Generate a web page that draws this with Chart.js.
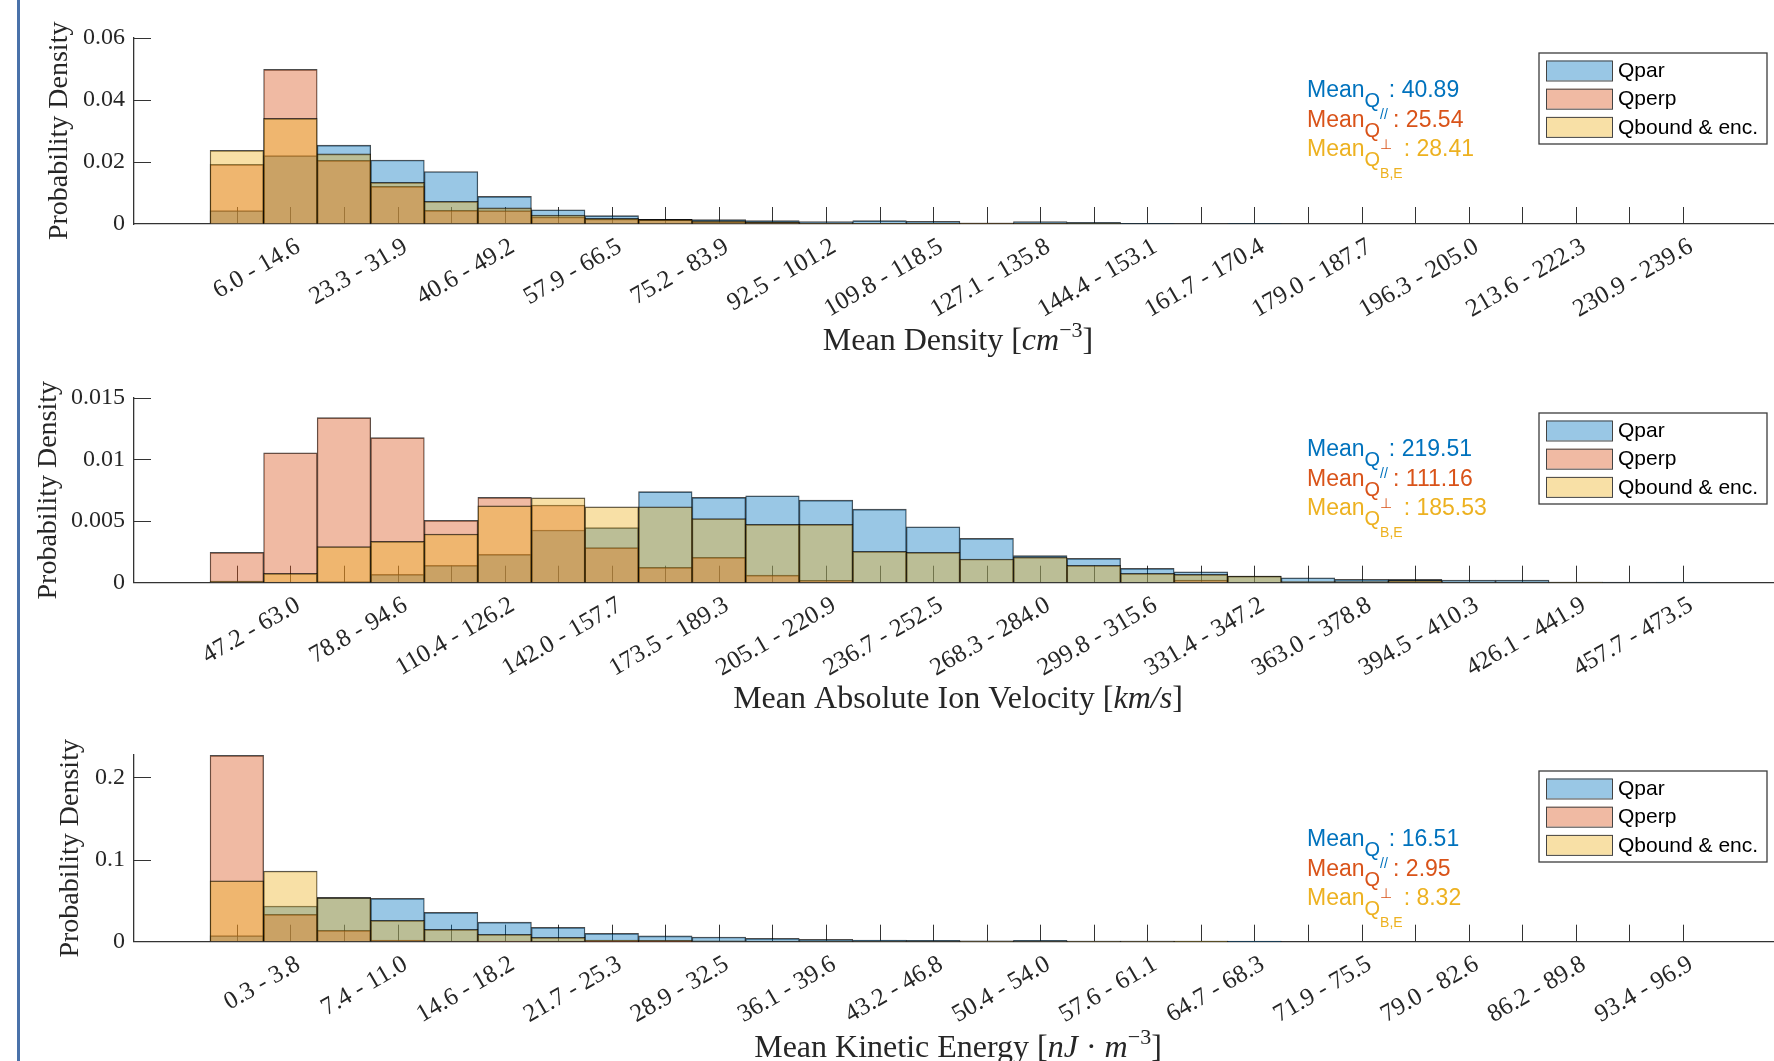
<!DOCTYPE html>
<html>
<head>
<meta charset="utf-8">
<title>Histograms of mean plasma moments</title>
<script src="https://cdn.jsdelivr.net/npm/chart.js@4.4.1/dist/chart.umd.min.js"></script>
<style>
  html, body { margin: 0; padding: 0; background: #fff; overflow: hidden; }
  #page { position: relative; width: 1774px; height: 1061px; overflow: hidden; }
  #page canvas { position: absolute; left: 0; }
  #edge { position: absolute; left: 17px; top: 0; width: 3px; height: 1061px; background: #4a72aa; }
</style>
</head>
<body>
<div id="page">
  <canvas id="density" width="1774" height="360" style="top:0"></canvas>
  <canvas id="velocity" width="1774" height="360" style="top:360px"></canvas>
  <canvas id="energy" width="1774" height="360" style="top:720px"></canvas>
  <div id="edge"></div>
</div>
<script>
// bins (position on the x axis), labels sit on every other bin
const binIndex = [0, 1, 2, 3, 4, 5, 6, 7, 8, 9, 10, 11, 12, 13, 14, 15, 16, 17, 18, 19, 20, 21, 22, 23, 24, 25, 26, 27];
const seriesNames = ['Qpar', 'Qperp', 'Qbound & enc.'];

// --- Mean density
const densityTicks = ['6.0 - 14.6', '23.3 - 31.9', '40.6 - 49.2', '57.9 - 66.5', '75.2 - 83.9', '92.5 - 101.2', '109.8 - 118.5',
  '127.1 - 135.8', '144.4 - 153.1', '161.7 - 170.4', '179.0 - 187.7', '196.3 - 205.0', '213.6 - 222.3', '230.9 - 239.6'];
const densityYTicks = [0, 0.02, 0.04, 0.06];
const densityPar = [0.0043, 0.0220, 0.0254, 0.0206, 0.0169, 0.0089, 0.0046, 0.0027, 0.0015, 0.0014, 0.0011, 0.0008, 0.0011, 0.0009,
  0.0003, 0.0008, 0.0005, 0.0001, 0, 0.0001, 0, 0, 0, 0, 0, 0, 0, 0];
const densityPerp = [0.0192, 0.0498, 0.0205, 0.0121, 0.0044, 0.0043, 0.0023, 0.0016, 0.0015, 0.0007, 0.0005, 0.0002, 0.0002, 0.0001,
  0.0003, 0.0001, 0, 0, 0, 0, 0, 0, 0, 0, 0, 0, 0, 0];
const densityBound = [0.0237, 0.0340, 0.0226, 0.0134, 0.0073, 0.0052, 0.0029, 0.0018, 0.0014, 0.0010, 0.0006, 0.0003, 0.0002, 0.0002,
  0.0003, 0.0001, 0.0001, 0, 0, 0, 0, 0, 0, 0, 0, 0, 0, 0];
const densityMeans = ['40.89', '25.54', '28.41'];
const densityTitle = [['Mean Density [', 'n'], ['cm', 'i'], ['\u22123', 'sup'], [']', 'n']];

// --- Mean absolute ion velocity
const velocityTicks = ['47.2 - 63.0', '78.8 - 94.6', '110.4 - 126.2', '142.0 - 157.7', '173.5 - 189.3', '205.1 - 220.9', '236.7 - 252.5',
  '268.3 - 284.0', '299.8 - 315.6', '331.4 - 347.2', '363.0 - 378.8', '394.5 - 410.3', '426.1 - 441.9', '457.7 - 473.5'];
const velocityYTicks = [0, 0.005, 0.01, 0.015];
const velocityPar = [0, 0.00005, 0.0001, 0.00068, 0.00141, 0.0023, 0.00427, 0.00446, 0.00738, 0.00692, 0.00705, 0.0067, 0.00597, 0.00454,
  0.0036, 0.00219, 0.00197, 0.00116, 0.00089, 0.00054, 0.0004, 0.00027, 0.00027, 0.00022, 0.00022, 0.00003, 0.00003, 0.00002];
const velocityPerp = [0.00246, 0.01054, 0.01338, 0.01176, 0.00505, 0.00692, 0.0063, 0.00284, 0.00124, 0.00205, 0.00062, 0.0002, 0, 0,
  0, 0, 0, 0, 0.00022, 0, 0, 0, 0.0001, 0, 0, 0, 0, 0];
const velocityBound = [0.00014, 0.00076, 0.00292, 0.00335, 0.00395, 0.00624, 0.00689, 0.00616, 0.00616, 0.00519, 0.00473, 0.00473, 0.00254, 0.00246,
  0.00192, 0.00208, 0.0014, 0.00076, 0.00068, 0.00054, 0.0001, 0.0001, 0.0002, 0.00005, 0.00005, 0.00002, 0, 0];
const velocityMeans = ['219.51', '111.16', '185.53'];
const velocityTitle = [['Mean Absolute Ion Velocity [', 'n'], ['km/s', 'i'], [']', 'n']];

// --- Mean kinetic energy
const energyTicks = ['0.3 - 3.8', '7.4 - 11.0', '14.6 - 18.2', '21.7 - 25.3', '28.9 - 32.5', '36.1 - 39.6', '43.2 - 46.8',
  '50.4 - 54.0', '57.6 - 61.1', '64.7 - 68.3', '71.9 - 75.5', '79.0 - 82.6', '86.2 - 89.8', '93.4 - 96.9'];
const energyYTicks = [0, 0.1, 0.2];
const energyPar = [0.0073, 0.0434, 0.0541, 0.0527, 0.0357, 0.0239, 0.0174, 0.0101, 0.0071, 0.0057, 0.0041, 0.0028, 0.0020, 0.0016,
  0.0012, 0.0016, 0.0008, 0.0008, 0.0002, 0.0001, 0, 0, 0, 0, 0, 0, 0, 0];
const energyPerp = [0.2268, 0.0333, 0.0138, 0.0020, 0.0005, 0.0003, 0.0002, 0.0001, 0.0001, 0, 0, 0, 0, 0,
  0, 0, 0, 0, 0, 0, 0, 0, 0, 0, 0, 0, 0, 0];
const energyBound = [0.0742, 0.0860, 0.0535, 0.0260, 0.0150, 0.0089, 0.0053, 0.0020, 0.0016, 0.0012, 0.0008, 0.0006, 0.0005, 0.0004,
  0.0003, 0.0005, 0.0003, 0.0003, 0.0001, 0, 0, 0, 0, 0, 0, 0, 0, 0];
const energyMeans = ['16.51', '2.95', '8.32'];
const energyTitle = [['Mean Kinetic Energy [', 'n'], ['nJ', 'i'], [' \u00B7 ', 'n'], ['m', 'i'], ['\u22123', 'sup'], [']', 'n']];

// matlab default colours at FaceAlpha 0.4
const fillColors = ['rgba(0,114,189,0.4)', 'rgba(217,83,25,0.4)', 'rgba(237,177,32,0.4)'];
const textColors = ['#0072BD', '#D95319', '#EDB120'];
const meanSubs = ['//', '\u22A5', 'B,E'];
const axisColor = '#333333';
const serif = '"Liberation Serif", "DejaVu Serif", serif';
const sans = '"Liberation Sans", Arial, sans-serif';

function toPoints(values) {
  return values.map((v, i) => ({ x: binIndex[i], y: v }));
}

// matlab style ticks pointing into the plot
const inwardTicks = {
  id: 'inwardTicks',
  beforeDatasetsDraw(chart) {
    const { ctx, chartArea, scales } = chart;
    ctx.save();
    ctx.strokeStyle = axisColor;
    ctx.lineWidth = 1;
    ctx.beginPath();
    scales.x.ticks.forEach(t => {
      const px = Math.round(scales.x.getPixelForValue(t.value)) + 0.5;
      ctx.moveTo(px, chartArea.bottom);
      ctx.lineTo(px, chartArea.bottom - 17);
    });
    scales.y.ticks.forEach(t => {
      if (t.value === 0) return;
      const py = Math.round(scales.y.getPixelForValue(t.value)) + 0.5;
      ctx.moveTo(chartArea.left, py);
      ctx.lineTo(chartArea.left + 17, py);
    });
    ctx.stroke();
    ctx.restore();
  }
};

// x axis title with italic units and superscripts
const richTitle = {
  id: 'richTitle',
  afterDraw(chart, args, opts) {
    const ctx = chart.ctx;
    const fontOf = s => (s === 'i' ? 'italic 32px ' : s === 'sup' ? '22px ' : '32px ') + serif;
    ctx.save();
    ctx.fillStyle = '#262626';
    ctx.textBaseline = 'alphabetic';
    let total = 0;
    opts.parts.forEach(([t, s]) => { ctx.font = fontOf(s); total += ctx.measureText(t).width; });
    let x = opts.cx - total / 2;
    opts.parts.forEach(([t, s]) => {
      ctx.font = fontOf(s);
      ctx.fillText(t, x, s === 'sup' ? opts.y - 13 : opts.y);
      x += ctx.measureText(t).width;
    });
    ctx.restore();
  }
};

// boxed legend in the top right corner
const boxLegend = {
  id: 'boxLegend',
  afterDatasetsDraw(chart, args, opts) {
    const ctx = chart.ctx;
    ctx.save();
    ctx.fillStyle = '#fff';
    ctx.fillRect(opts.x, opts.y, opts.w, opts.h);
    ctx.strokeStyle = '#3c3c3c';
    ctx.lineWidth = 1.3;
    ctx.strokeRect(opts.x, opts.y, opts.w, opts.h);
    ctx.font = '21px ' + sans;
    ctx.textBaseline = 'middle';
    chart.data.datasets.forEach((ds, i) => {
      const cy = opts.y + opts.first + i * opts.gap;
      const sx = opts.x + 7;
      ctx.fillStyle = ds.backgroundColor;
      ctx.fillRect(sx, cy - 10, 66, 20);
      ctx.strokeStyle = '#444';
      ctx.lineWidth = 1;
      ctx.strokeRect(sx + 0.5, cy - 9.5, 66, 20);
      ctx.fillStyle = '#000';
      ctx.fillText(ds.label, sx + 72, cy + 1);
    });
    ctx.restore();
  }
};

// "Mean_Q_x : value" lines
const meanNote = {
  id: 'meanNote',
  afterDatasetsDraw(chart, args, opts) {
    const ctx = chart.ctx;
    ctx.save();
    ctx.textBaseline = 'alphabetic';
    opts.values.forEach((val, i) => {
      let x = opts.x;
      const b = opts.y + i * opts.gap;
      ctx.fillStyle = textColors[i];
      ctx.font = '23px ' + sans;
      ctx.fillText('Mean', x, b);
      x += ctx.measureText('Mean').width;
      ctx.font = '20px ' + sans;
      ctx.fillText('Q', x, b + 10);
      x += ctx.measureText('Q').width;
      ctx.font = '14px ' + sans;
      ctx.fillText(meanSubs[i], x, b + 22);
      x += ctx.measureText(meanSubs[i]).width + 1;
      ctx.font = '23px ' + sans;
      ctx.fillText(': ' + val, x, b);
    });
    ctx.restore();
  }
};

function makePanel(id, p) {
  return new Chart(document.getElementById(id), {
    type: 'bar',
    data: {
      datasets: [
        { label: seriesNames[0], data: toPoints(p.par), backgroundColor: fillColors[0], order: 3 },
        { label: seriesNames[1], data: toPoints(p.perp), backgroundColor: fillColors[1], order: 2 },
        { label: seriesNames[2], data: toPoints(p.bound), backgroundColor: fillColors[2], order: 1 }
      ]
    },
    options: {
      responsive: false,
      animation: false,
      devicePixelRatio: 1,
      layout: { padding: { top: p.top, left: 0, right: 0, bottom: 0 }, autoPadding: false },
      datasets: {
        bar: {
          grouped: false,
          barPercentage: 1,
          categoryPercentage: 1,
          borderColor: 'rgba(0,0,0,0.7)',
          borderWidth: { top: 1, left: 0.7, right: 0.7, bottom: 0 },
          borderSkipped: false
        }
      },
      plugins: {
        legend: { display: false },
        tooltip: { enabled: false },
        boxLegend: { x: 1539, y: p.legendTop, w: 228, h: 91, first: 17.5, gap: 28.2 },
        meanNote: { x: 1307, y: p.meanTop, gap: 29.5, values: p.means },
        richTitle: { parts: p.xTitle, cx: 958, y: p.xTitleY }
      },
      scales: {
        x: {
          type: 'linear',
          offset: false,
          min: -1.92,
          max: 28.7,
          afterBuildTicks: s => { s.ticks = binIndex.map(v => ({ value: v })); },
          afterFit: s => { s.height = 360 - p.bottom; },
          grid: { display: true, offset: false, drawOnChartArea: false, drawTicks: false, color: 'rgba(0,0,0,0)' },
          border: { display: true, color: axisColor, width: 1.3 },
          ticks: {
            autoSkip: false,
            minRotation: 30,
            maxRotation: 30,
            padding: 8,
            labelOffset: 8,
            color: '#262626',
            font: { family: serif, size: 25 },
            callback: v => {
              const k = binIndex.indexOf(v);
              return k % 2 === 1 ? p.xTicks[(k - 1) / 2] : '';
            }
          }
        },
        y: {
          min: 0,
          max: p.yMax,
          afterBuildTicks: s => { s.ticks = p.yTicks.map(v => ({ value: v })); },
          afterFit: s => { s.width = 134; },
          grid: { display: true, drawOnChartArea: false, drawTicks: false, color: 'rgba(0,0,0,0)' },
          border: { display: true, color: axisColor, width: 1.3 },
          ticks: {
            padding: 9,
            color: '#262626',
            font: { family: serif, size: 24 },
            callback: v => (v === 0 ? '0' : String(v))
          },
          title: {
            display: true,
            text: 'Probability Density',
            color: '#262626',
            font: { family: serif, size: 28 },
            padding: { top: p.yTitlePad, bottom: 0 }
          }
        }
      }
    },
    plugins: [inwardTicks, boxLegend, meanNote, richTitle]
  });
}

makePanel('density', {
  par: densityPar, perp: densityPerp, bound: densityBound, means: densityMeans,
  xTicks: densityTicks, yTicks: densityYTicks, yMax: 0.06, xTitle: densityTitle,
  top: 37.7, bottom: 224, xTitleY: 350, yTitlePad: 43, legendTop: 53, meanTop: 97
});
makePanel('velocity', {
  par: velocityPar, perp: velocityPerp, bound: velocityBound, means: velocityMeans,
  xTicks: velocityTicks, yTicks: velocityYTicks, yMax: 0.015, xTitle: velocityTitle,
  top: 37.7, bottom: 222.7, xTitleY: 348, yTitlePad: 32, legendTop: 53, meanTop: 96
});
makePanel('energy', {
  par: energyPar, perp: energyPerp, bound: energyBound, means: energyMeans,
  xTicks: energyTicks, yTicks: energyYTicks, yMax: 0.2272, xTitle: energyTitle,
  top: 35, bottom: 221.7, xTitleY: 337, yTitlePad: 54, legendTop: 51, meanTop: 126
});
</script>
</body>
</html>
